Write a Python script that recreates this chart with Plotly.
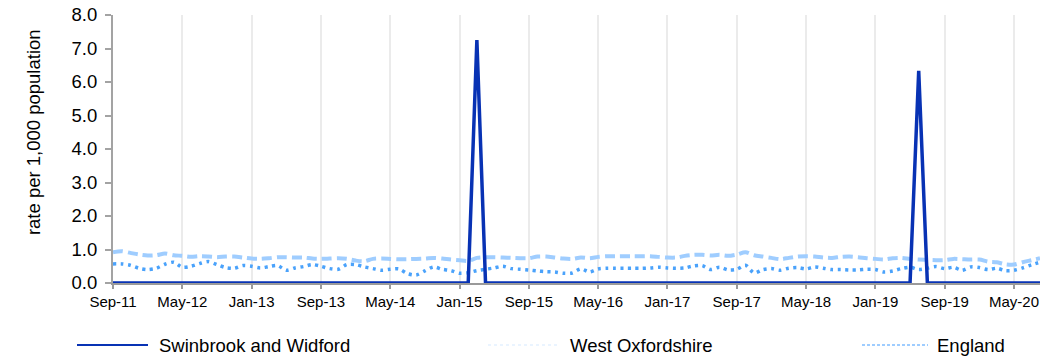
import plotly.graph_objects as go
import pandas as pd

# ---- data ----
months = [d.strftime("%b-%y") for d in pd.date_range("2011-09-01", "2020-08-01", freq="MS")]

swinbrook = [0.0] * len(months)
swinbrook[months.index("Mar-15")] = 7.25
swinbrook[months.index("Jun-19")] = 6.33

west_oxfordshire = [
    0.57, 0.57, 0.53, 0.44, 0.40, 0.44, 0.56, 0.62, 0.47, 0.50, 0.58, 0.64, 0.55, 0.46,
    0.44, 0.52, 0.50, 0.45, 0.49, 0.52, 0.38, 0.45, 0.49, 0.55, 0.50, 0.43, 0.41, 0.55,
    0.55, 0.48, 0.43, 0.38, 0.41, 0.42, 0.28, 0.24, 0.36, 0.48, 0.41, 0.37, 0.29, 0.31,
    0.37, 0.41, 0.45, 0.50, 0.43, 0.41, 0.39, 0.36, 0.34, 0.33, 0.29, 0.30, 0.42,
    0.33, 0.42, 0.44, 0.44, 0.44, 0.44, 0.44, 0.45, 0.47, 0.45, 0.44, 0.45, 0.51, 0.52,
    0.40, 0.47, 0.39, 0.41, 0.53, 0.30, 0.40, 0.43, 0.38, 0.44, 0.46, 0.42, 0.48,
    0.44, 0.40, 0.40, 0.39, 0.39, 0.41, 0.40, 0.33, 0.36, 0.43, 0.47, 0.40, 0.44, 0.49,
    0.43, 0.47, 0.38, 0.48, 0.46, 0.40, 0.44, 0.37, 0.38, 0.45, 0.54, 0.62,
]

england = [
    0.92, 0.95, 0.90, 0.85, 0.82, 0.83, 0.88, 0.83, 0.81, 0.78, 0.80, 0.79, 0.77, 0.79,
    0.79, 0.76, 0.73, 0.72, 0.74, 0.77, 0.77, 0.76, 0.76, 0.73, 0.72, 0.73, 0.74, 0.72,
    0.67, 0.65, 0.72, 0.73, 0.72, 0.71, 0.71, 0.72, 0.73, 0.75, 0.73, 0.70, 0.68, 0.66,
    0.75, 0.77, 0.77, 0.76, 0.75, 0.74, 0.74, 0.79, 0.79, 0.76, 0.73, 0.72, 0.76,
    0.74, 0.78, 0.80, 0.80, 0.80, 0.80, 0.80, 0.80, 0.78, 0.76, 0.76, 0.81, 0.84, 0.84,
    0.82, 0.84, 0.81, 0.85, 0.92, 0.83, 0.79, 0.75, 0.71, 0.75, 0.79, 0.80, 0.79,
    0.76, 0.75, 0.78, 0.79, 0.77, 0.74, 0.72, 0.70, 0.74, 0.75, 0.72, 0.70, 0.69, 0.68,
    0.68, 0.72, 0.71, 0.70, 0.70, 0.64, 0.62, 0.56, 0.55, 0.62, 0.68, 0.74,
]

tick_labels = ["Sep-11", "May-12", "Jan-13", "Sep-13", "May-14", "Jan-15", "Sep-15",
               "May-16", "Jan-17", "Sep-17", "May-18", "Jan-19", "Sep-19", "May-20"]
series_names = ["Swinbrook and Widford", "West Oxfordshire", "England"]
y_title = "rate per 1,000 population"

# ---- styles ----
C_SWIN = "#0832b4"
C_WEST = "#4aa2fb"
C_ENG = "#9fcdff"
FONT = "Liberation Sans, Arial, sans-serif"

x = list(range(len(months)))
fig = go.Figure()
fig.add_trace(go.Scatter(x=x, y=england, mode="lines", name=series_names[2],
                         line=dict(color=C_ENG, width=4, dash="10px,5px", shape="spline", smoothing=0.8),
                         showlegend=False, customdata=months))
fig.add_trace(go.Scatter(x=x, y=west_oxfordshire, mode="lines", name=series_names[1],
                         line=dict(color=C_WEST, width=3.5, dash="3px,4.5px", shape="spline", smoothing=0.8),
                         showlegend=False, customdata=months))
fig.add_trace(go.Scatter(x=x, y=swinbrook, mode="lines", name=series_names[0],
                         line=dict(color=C_SWIN, width=3.5),
                         showlegend=False, customdata=months))

tickvals = [months.index(t) for t in tick_labels]

fig.update_layout(
    width=1040, height=357,
    margin=dict(l=113, r=0, t=15, b=74),
    plot_bgcolor="white", paper_bgcolor="white",
    font=dict(family=FONT, color="#000000"),
    xaxis=dict(range=[0, len(months) - 1], tickmode="array", tickvals=tickvals, ticktext=tick_labels,
               showgrid=True, gridcolor="#ebebeb", gridwidth=1.5,
               showline=True, linecolor="#9a9a9a", linewidth=1.5,
               ticks="outside", ticklen=4, tickcolor="#9a9a9a", tickwidth=1.5,
               ticklabeloverflow="allow",
               tickfont=dict(size=15, family=FONT, color="#000000"), zeroline=False),
    yaxis=dict(range=[0, 8], dtick=1, tickformat=".1f", showgrid=False,
               showline=True, linecolor="#a3a3a3", linewidth=2,
               ticks="outside", ticklen=6, tickcolor="#a3a3a3", tickwidth=2,
               ticklabelstandoff=4, ticklabeloverflow="allow",
               tickfont=dict(size=18.5, family=FONT, color="#000000"), zeroline=False),
)

# y-axis title
fig.add_annotation(text=y_title, textangle=-90, xref="paper", yref="paper",
                   x=-0.0863, y=0.563, xanchor="center", yanchor="middle", showarrow=False,
                   font=dict(size=18.5, family=FONT, color="#000000"))

# manual legend (screen px positions converted to paper coords)
W = 927.0
def px(p):
    return (p - 113) / W

leg_y = (283 - 345) / 268.0
legend_items = [
    (series_names[0], 77, 148, 157, dict(color=C_SWIN, width=2.2)),
    (series_names[1], 488, 560, 568, dict(color="#d6eaff", width=1.2, dash="dot")),
    (series_names[2], 862, 928, 935, dict(color=C_ENG, width=2, dash="3px,2px")),
]
for name, x0, x1, tx, ln in legend_items:
    fig.add_shape(type="line", xref="paper", yref="paper", x0=px(x0), x1=px(x1),
                  y0=leg_y, y1=leg_y, line=ln)
    fig.add_annotation(text=name, xref="paper", yref="paper", x=px(tx), y=leg_y,
                       xanchor="left", yanchor="middle", showarrow=False,
                       font=dict(size=18.5, family=FONT, color="#000000"))

fig.write_html("out.html", config={"displayModeBar": False},
               post_script="document.body.style.margin='0';document.body.style.overflow='hidden';")
